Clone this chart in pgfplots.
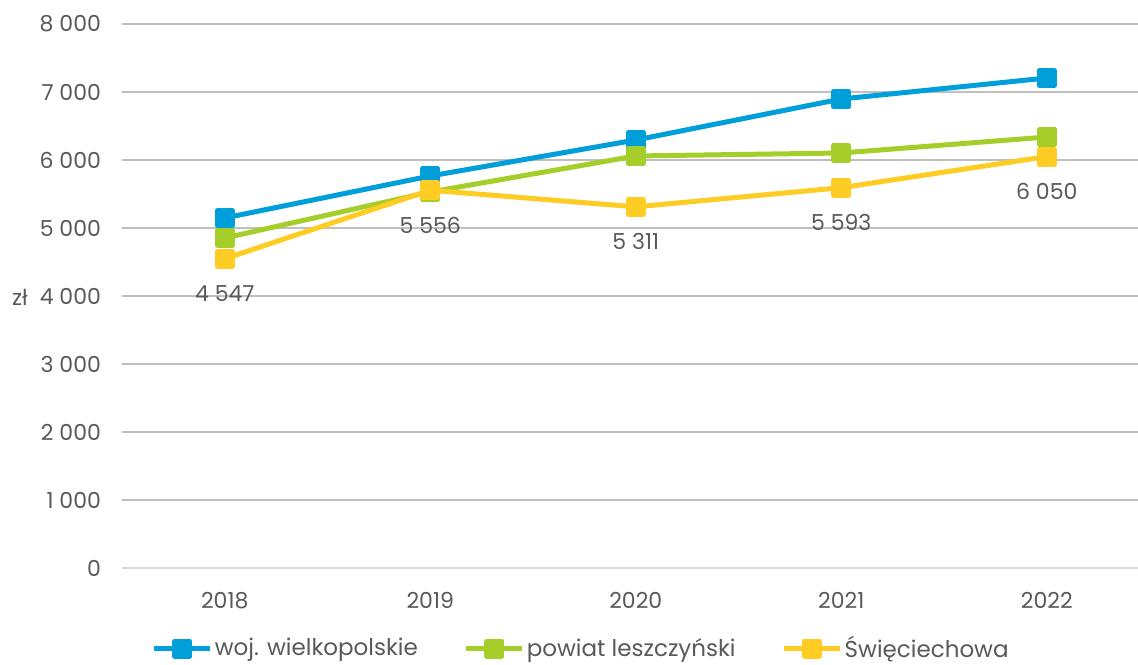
\documentclass[border=0pt]{standalone}
\usepackage{fontspec}
\setmainfont{Poppins}
\usepackage{pgfplots}
\pgfplotsset{compat=1.18}

\definecolor{cblue}{RGB}{0,159,218}
\definecolor{cgreen}{RGB}{166,206,42}
\definecolor{cyellow}{RGB}{254,204,34}
\definecolor{txt}{RGB}{89,89,89}
\definecolor{grid}{RGB}{217,217,217}

\begin{document}
\begin{tikzpicture}
\begin{axis}[
  at={(0,0)}, anchor=south west,
  scale only axis, width=508pt, height=272pt,
  xmin=-0.5, xmax=4.444, ymin=0, ymax=8000,
  axis lines*=left,
  y axis line style={draw=none},
  x axis line style={grid, line width=0.75pt, -},
  xtick={0,1,2,3,4}, xticklabels={2018,2019,2020,2021,2022},
  ytick={0,1000,...,8000},
  yticklabels={0,1 000,2 000,3 000,4 000,5 000,6 000,7 000,8 000},
  major tick length=0pt,
  xmajorgrids=false, ymajorgrids=true,
  grid style={grid, line width=0.75pt},
  tick label style={font=\fontsize{11}{13}\selectfont, text=txt},
  xticklabel style={yshift=-8.5pt},
  yticklabel style={xshift=-7pt},
  legend style={at={(0.452,-0.148)}, anchor=center, draw=none,
    font=\fontsize{11.5}{13}\selectfont, text=txt,
    nodes={inner xsep=1pt},
    /tikz/every even column/.append style={column sep=22pt},
    /tikz/every odd column/.append style={column sep=0pt}},
  legend columns=3,
  legend image code/.code={
    \draw[mark repeat=2, mark phase=2] plot coordinates {(0pt,0pt) (14pt,0pt) (28pt,0pt)};},
  every axis plot/.append style={line width=2.5pt, line join=round, mark=square*, mark size=3.75pt, mark options={solid}},
  clip=false,
]
\addplot[cblue, mark options={fill=cblue}] coordinates {(0,5147) (1,5765) (2,6294) (3,6897) (4,7206)};
\addlegendentry{woj. wielkopolskie}
\addplot[cgreen, mark options={fill=cgreen}] coordinates {(0,4853) (1,5530) (2,6059) (3,6103) (4,6338)};
\addlegendentry{powiat leszczyński}
\addplot[cyellow, mark options={fill=cyellow},
  nodes near coords, point meta=explicit symbolic,
  nodes near coords style={anchor=center, yshift=-17.5pt, text=txt, font=\fontsize{11}{13}\selectfont}]
  table[meta=lab, col sep=comma] {
x,y,lab
0,4547,4 547
1,5556,5 556
2,5311,5 311
3,5593,5 593
4,6050,6 050
};
\addlegendentry{Święciechowa}
\node[text=txt, font=\fontsize{11}{13}\selectfont] at (rel axis cs:-0.1004,0.498) {zł};
\end{axis}
\pgfresetboundingbox
\path (-61pt,-48pt) rectangle (508pt,284pt);
\end{tikzpicture}
\end{document}
